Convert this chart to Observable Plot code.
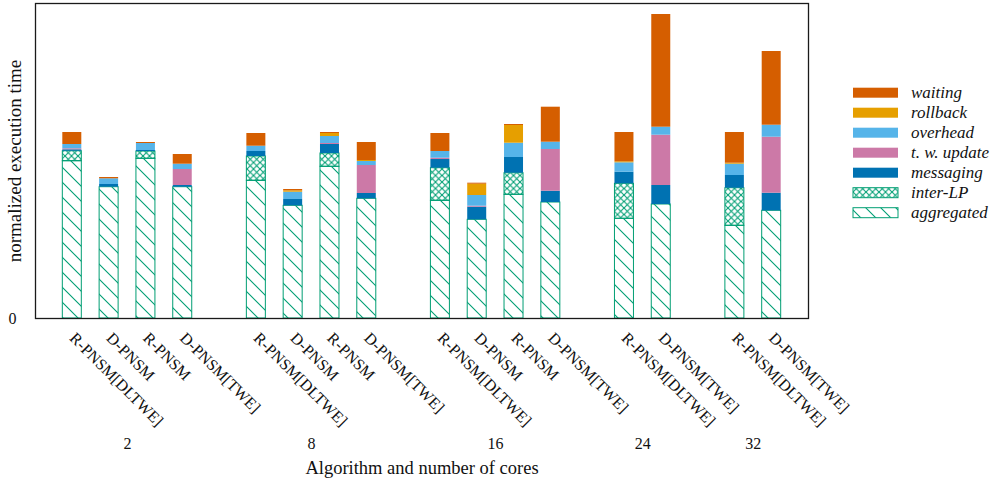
<!DOCTYPE html>
<html>
<head>
<meta charset="utf-8">
<script src="https://cdn.jsdelivr.net/npm/d3@7"></script>
<script src="https://cdn.jsdelivr.net/npm/@observablehq/plot@0.6"></script>
<style>
  html, body { margin: 0; padding: 0; background: #fff; }
  #chart { position: relative; width: 1005px; height: 488px; }
  #legend { position: absolute; left: 840px; top: 75px; }
</style>
</head>
<body>
<div id="chart"></div>
<script>
// Core counts (one group per count) and the bars of every group
const cores = ["2", "8", "16", "24", "32"];
const barCores = ["2", "2", "2", "2", "8", "8", "8", "8", "16", "16", "16", "16", "24", "24", "32", "32"];
const barAlgos = [
  "R-PNSM[DLTWE]", "D-PNSM", "R-PNSM", "D-PNSM[TWE]",
  "R-PNSM[DLTWE]", "D-PNSM", "R-PNSM", "D-PNSM[TWE]",
  "R-PNSM[DLTWE]", "D-PNSM", "R-PNSM", "D-PNSM[TWE]",
  "R-PNSM[DLTWE]", "D-PNSM[TWE]",
  "R-PNSM[DLTWE]", "D-PNSM[TWE]"
];

// Stack components, bottom to top
const components = ["aggregated", "inter-LP", "messaging", "t. w. update", "overhead", "rollback", "waiting"];

// Normalized execution time per component, one value per bar
const aggregated = [1.573, 1.313, 1.597, 1.313, 1.377, 1.127, 1.517, 1.197, 1.177, 0.987, 1.237, 1.160, 0.997, 1.140, 0.927, 1.077];
const interLP    = [0.100, 0,     0.073, 0,     0.243, 0,     0.133, 0,     0.326, 0,     0.216, 0,     0.350, 0,     0.376, 0];
const messaging  = [0.014, 0.027, 0.010, 0.017, 0.050, 0.063, 0.090, 0.053, 0.087, 0.126, 0.157, 0.113, 0.116, 0.190, 0.127, 0.176];
const twUpdate   = [0.010, 0,     0,     0.160, 0,     0,     0.010, 0.280, 0.013, 0.010, 0,     0.417, 0,     0.503, 0,     0.560];
const overhead   = [0.043, 0.057, 0.070, 0.053, 0.053, 0.073, 0.070, 0.040, 0.067, 0.107, 0.143, 0.073, 0.094, 0.080, 0.113, 0.120];
const rollback   = [0,     0,     0,     0,     0,     0.014, 0.030, 0.010, 0,     0.113, 0.177, 0,     0.010, 0,     0.010, 0];
const waiting    = [0.120, 0.013, 0.010, 0.097, 0.127, 0.013, 0.010, 0.180, 0.180, 0.010, 0.010, 0.350, 0.293, 1.127, 0.307, 0.737];

const seriesValues = {
  "aggregated": aggregated,
  "inter-LP": interLP,
  "messaging": messaging,
  "t. w. update": twUpdate,
  "overhead": overhead,
  "rollback": rollback,
  "waiting": waiting
};

const green = "#009E73";
const fills = {
  "aggregated": "url(#hatch-agg)",
  "inter-LP": "url(#hatch-cross)",
  "messaging": "#0072B2",
  "t. w. update": "#CC79A7",
  "overhead": "#56B4E9",
  "rollback": "#E69F00",
  "waiting": "#D55E00"
};
const patterned = new Set(["aggregated", "inter-LP"]);

// Band slots: the bars of each group, with an empty slot between groups
const barKey = i => `${barCores[i]}|${i}`;
const slots = [];
cores.forEach((c, gi) => {
  barAlgos.forEach((_, i) => { if (barCores[i] === c) slots.push(barKey(i)); });
  if (gi < cores.length - 1) slots.push(`gap-${gi}`);
});

const bars = barAlgos.map((algo, i) => ({slot: barKey(i), algo, core: barCores[i]}));

const rows = [];
bars.forEach((b, i) => {
  for (const comp of components) {
    const v = seriesValues[comp][i];
    if (v > 0) rows.push({slot: b.slot, component: comp, value: v});
  }
});

// Group captions sit between the two middle bars of each group
const groupLabels = cores.map(c => {
  const idx = bars.map((b, i) => i).filter(i => barCores[i] === c);
  return {core: c, slot: barKey(idx[idx.length / 2 - 1])};
});

const W = 1005, H = 488;
const mL = 35, mR = 197, mT = 3, mB = 170;
const step = (W - mL - mR) / 21;

function patternDefs() {
  const defs = d3.create("svg:defs");
  const p1 = defs.append("pattern")
    .attr("id", "hatch-agg").attr("patternUnits", "userSpaceOnUse")
    .attr("width", 15).attr("height", 15);
  p1.append("path")
    .attr("d", "M0,0L15,15M-2,13L2,17M13,-2L17,2")
    .attr("stroke", green).attr("stroke-width", 1.1).attr("fill", "none");
  const p2 = defs.append("pattern")
    .attr("id", "hatch-cross").attr("patternUnits", "userSpaceOnUse")
    .attr("width", 6.5).attr("height", 6.5);
  p2.append("path")
    .attr("d", "M0,0L6.5,6.5M6.5,0L0,6.5")
    .attr("stroke", green).attr("stroke-width", 1.1).attr("fill", "none");
  return defs.node();
}

const font = "'Liberation Serif', 'DejaVu Serif', serif";

const plot = Plot.plot({
  width: W,
  height: H,
  marginLeft: mL,
  marginRight: mR,
  marginTop: mT,
  marginBottom: mB,
  style: {fontFamily: font, fontSize: "16px", color: "#111", background: "#fff"},
  x: {type: "band", domain: slots, paddingInner: 0.484, paddingOuter: 0.742, round: false, axis: null},
  y: {domain: [0, 3.15], axis: null},
  color: {type: "identity"},
  marks: [
    patternDefs,
    Plot.barY(rows, Plot.stackY({
      x: "slot",
      y: "value",
      z: "component",
      order: components,
      fill: d => fills[d.component],
      stroke: d => patterned.has(d.component) ? green : "none",
      strokeWidth: 1
    })),
    Plot.frame({stroke: "#1a1a1a", strokeWidth: 1.3}),
    // y axis: only the zero tick
    Plot.axisY([0], {tickSize: 0, tickPadding: 19, fontSize: 16, label: null, tickFormat: d => String(d)}),
    Plot.text(["normalized execution time"], {
      frameAnchor: "left", rotate: -90, dx: -21, fontSize: 19, textAnchor: "middle"
    }),
    // rotated algorithm labels under each bar
    Plot.text(bars, {
      x: "slot", text: "algo", frameAnchor: "bottom", dy: 17,
      rotate: 45, textAnchor: "start", lineAnchor: "middle", fontSize: 16
    }),
    // core-count captions
    Plot.text(groupLabels, {
      x: "slot", text: "core", frameAnchor: "bottom", dx: step / 2, dy: 125,
      fontSize: 16, lineAnchor: "middle"
    }),
    Plot.text(["Algorithm and number of cores"], {
      frameAnchor: "bottom", dy: 150, fontSize: 18.5, lineAnchor: "middle"
    })
  ]
});

document.getElementById("chart").append(plot);

// Legend, to the right of the plot area
const legendItems = components.slice().reverse();
const lg = d3.select("#chart").append("svg")
  .attr("id", "legend").attr("width", 165).attr("height", 155)
  .style("font-family", font);
const ldefs = lg.append("defs");
const lp1 = ldefs.append("pattern")
  .attr("id", "leg-agg").attr("patternUnits", "userSpaceOnUse")
  .attr("width", 15).attr("height", 15).attr("x", 13).attr("y", 0);
lp1.append("path").attr("d", "M0,0L15,15M-2,13L2,17M13,-2L17,2")
  .attr("stroke", green).attr("stroke-width", 1.1).attr("fill", "none");
const lp2 = ldefs.append("pattern")
  .attr("id", "leg-cross").attr("patternUnits", "userSpaceOnUse")
  .attr("width", 6.5).attr("height", 6.5).attr("x", 13).attr("y", 0);
lp2.append("path").attr("d", "M0,0L6.5,6.5M6.5,0L0,6.5")
  .attr("stroke", green).attr("stroke-width", 1.1).attr("fill", "none");
const legendFill = {"aggregated": "url(#leg-agg)", "inter-LP": "url(#leg-cross)"};

legendItems.forEach((name, k) => {
  const cy = 17.7 + 20 * k;
  lg.append("rect")
    .attr("x", 13).attr("y", cy - 5).attr("width", 45).attr("height", 10)
    .attr("fill", legendFill[name] || fills[name])
    .attr("stroke", patterned.has(name) ? green : "none")
    .attr("stroke-width", 1);
  lg.append("text")
    .attr("x", 71).attr("y", cy + 5)
    .attr("font-size", 17).attr("font-style", "italic").attr("fill", "#111")
    .text(name);
});
</script>
</body>
</html>
